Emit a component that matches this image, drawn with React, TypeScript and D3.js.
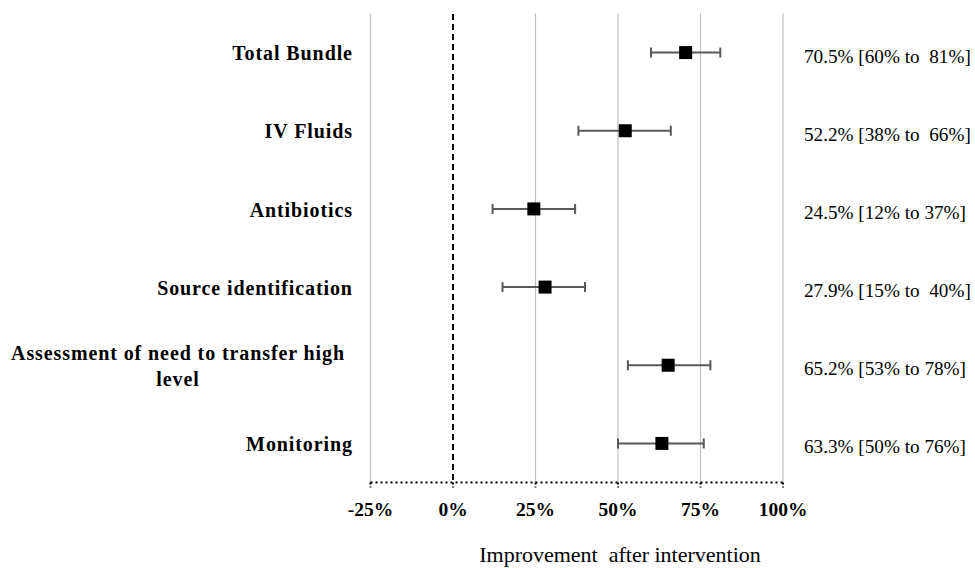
import React from "react";
import * as d3 from "d3";

const categories = [
  "Total Bundle",
  "IV Fluids",
  "Antibiotics",
  "Source identification",
  "Assessment of need to transfer high|level",
  "Monitoring",
];
const estimates = [70.5, 52.2, 24.5, 27.9, 65.2, 63.3];
const lower = [60, 38, 12, 15, 53, 50];
const upper = [81, 66, 37, 40, 78, 76];
const annotations = [
  "70.5% [60% to  81%]",
  "52.2% [38% to  66%]",
  "24.5% [12% to 37%]",
  "27.9% [15% to  40%]",
  "65.2% [53% to 78%]",
  "63.3% [50% to 76%]",
];
const tickValues = [-25, 0, 25, 50, 75, 100];
const xTitle = "Improvement  after intervention";

export default function App() {
  const W = 975, H = 568;
  const plotTop = 13.5, plotBottom = 482.5;
  const x = d3.scaleLinear().domain([-25, 100]).range([370.5, 783]);
  const y = d3.scaleBand().domain(categories).range([plotTop, plotBottom]);
  const font = "'Liberation Serif', 'Times New Roman', serif";
  const labelRight = 352;
  const sq = 13;
  const cap = 10;
  return (
    <svg width={W} height={H} style={{ position: "absolute", left: 0, top: 0, background: "#fff" }}>
      {tickValues.filter(t => t !== 0).map(t => (
        <line key={"g" + t} x1={x(t)} x2={x(t)} y1={plotTop} y2={plotBottom} stroke="#bfbfbf" strokeWidth={1.2} />
      ))}
      <line x1={x(0)} x2={x(0)} y1={plotTop + 0.5} y2={plotBottom} stroke="#000" strokeWidth={2} strokeDasharray="6,4" />
      <line x1={x(-25)} x2={x(100)} y1={plotBottom} y2={plotBottom} stroke="#000" strokeWidth={2.2} strokeDasharray="2,3" />
      {tickValues.map(t => (
        <line key={"t" + t} x1={x(t)} x2={x(t)} y1={plotBottom} y2={plotBottom + 5} stroke="#000" strokeWidth={2} strokeDasharray="2,2" />
      ))}
      {tickValues.map(t => (
        <text key={"tl" + t} x={x(t)} y={515.5} textAnchor="middle" fontFamily={font} fontWeight="bold" fontSize={19.5}>{t + "%"}</text>
      ))}
      <text x={620} y={561.5} textAnchor="middle" fontFamily={font} fontSize={22} style={{ whiteSpace: "pre" }}>{xTitle}</text>
      {categories.map((c, i) => {
        const cy = (y(c) as number) + y.bandwidth() / 2;
        const parts = c.split("|");
        return (
          <g key={c}>
            {parts.length === 1 ? (
              <text x={labelRight + 0.9} y={cy + 7.7} textAnchor="end" fontFamily={font} fontWeight="bold" fontSize={20} letterSpacing={0.9}>{c}</text>
            ) : (
              parts.map((p, j) => (
                <text key={j} x={178} y={cy + (j - (parts.length - 1) / 2) * 26 + 7.5} textAnchor="middle" fontFamily={font} fontWeight="bold" fontSize={20} letterSpacing={0.9}>{p}</text>
              ))
            )}
            <line x1={x(lower[i])} x2={x(upper[i])} y1={cy} y2={cy} stroke="#595959" strokeWidth={2} />
            <line x1={x(lower[i])} x2={x(lower[i])} y1={cy - cap / 2} y2={cy + cap / 2} stroke="#595959" strokeWidth={2} />
            <line x1={x(upper[i])} x2={x(upper[i])} y1={cy - cap / 2} y2={cy + cap / 2} stroke="#595959" strokeWidth={2} />
            <rect x={x(estimates[i]) - sq / 2} y={cy - sq / 2} width={sq} height={sq} fill="#000" />
            <text x={804} y={cy + 10} fontFamily={font} fontSize={19.2} style={{ whiteSpace: "pre" }}>{annotations[i]}</text>
          </g>
        );
      })}
    </svg>
  );
}
